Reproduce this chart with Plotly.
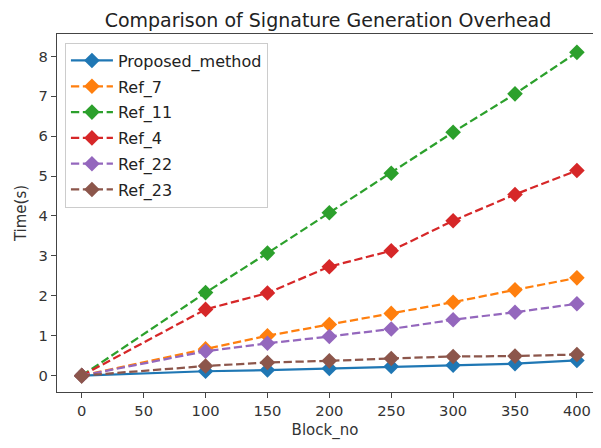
import plotly.graph_objects as go

block_no = [0, 100, 150, 200, 250, 300, 350, 400]
x_ticks = [0, 50, 100, 150, 200, 250, 300, 350, 400]
y_ticks = [0, 1, 2, 3, 4, 5, 6, 7, 8]

proposed = [0, 0.11, 0.14, 0.18, 0.23, 0.26, 0.30, 0.38]
ref_7 = [0, 0.67, 1.0, 1.28, 1.56, 1.84, 2.15, 2.45]
ref_11 = [0, 2.08, 3.07, 4.08, 5.07, 6.1, 7.06, 8.1]
ref_4 = [0, 1.66, 2.07, 2.73, 3.13, 3.88, 4.54, 5.14]
ref_22 = [0, 0.61, 0.81, 0.98, 1.17, 1.40, 1.59, 1.8]
ref_23 = [0, 0.24, 0.33, 0.37, 0.43, 0.48, 0.49, 0.53]

DASH = "8.3px,3.6px"
series = [
    ("Proposed_method", proposed, "#1f77b4", "solid"),
    ("Ref_7", ref_7, "#ff7f0e", DASH),
    ("Ref_11", ref_11, "#2ca02c", DASH),
    ("Ref_4", ref_4, "#d62728", DASH),
    ("Ref_22", ref_22, "#9467bd", DASH),
    ("Ref_23", ref_23, "#8c564b", DASH),
]

fig = go.Figure()
for i, (name, vals, color, dash) in enumerate(series):
    fig.add_trace(go.Scatter(
        x=block_no, y=vals, name=name, mode="lines+markers",
        legendgroup=f"g{i}", cliponaxis=False,
        line=dict(color=color, width=2.25, dash=dash),
        marker=dict(symbol="diamond", size=12, color=color),
    ))

axis_common = dict(
    showline=True, linecolor="#444", linewidth=1.2,
    ticks="outside", ticklen=5, tickcolor="#444", showgrid=False, zeroline=False,
    tickfont=dict(size=14.7, color="#333"),
)

# the page has an 8px body margin; the figure is sized to fit inside it
fig.update_layout(
    width=585, height=432,
    paper_bgcolor="white", plot_bgcolor="white",
    font=dict(family="DejaVu Sans", color="#333"),
    margin=dict(l=49, r=0, t=26, b=48),
    title=dict(text="Comparison of Signature Generation Overhead", x=0.547, xanchor="center",
               y=0.971, yanchor="middle", font=dict(size=19, color="#222")),
    xaxis=dict(range=[-20, 413], tickvals=x_ticks, mirror=True,
               title=dict(text="Block_no", font=dict(size=15), standoff=10), **axis_common),
    yaxis=dict(range=[-0.41, 8.56], tickvals=y_ticks, mirror=False,
               title=dict(text="Time(s)", font=dict(size=15), standoff=8), **axis_common),
    legend=dict(x=0.0148, y=0.976, xanchor="left", yanchor="top",
                bgcolor="rgba(255,255,255,0.9)", bordercolor="#ccc", borderwidth=1,
                font=dict(size=16, color="#222"), tracegroupgap=2, itemwidth=42),
)

fig.write_html("out.html")
